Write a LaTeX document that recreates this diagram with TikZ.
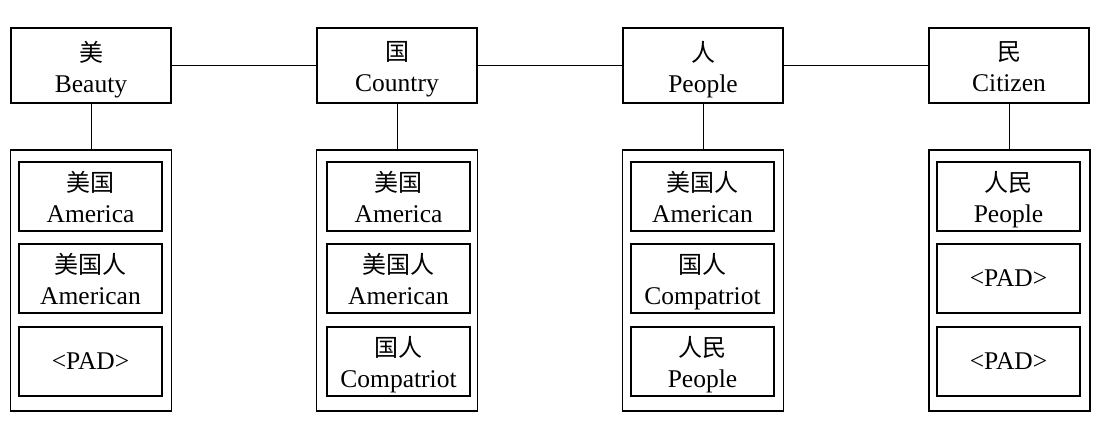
\documentclass[tikz,border=0pt]{standalone}
\usepackage{fontspec}
\setmainfont{Liberation Serif}
\newfontfamily\cjk{Noto Sans CJK SC}
\begin{document}
\begin{tikzpicture}[x=1pt,y=-1pt,
  every node/.style={font=\fontsize{25.5}{31}\selectfont, align=center, inner sep=0pt, outer sep=0pt},
  top/.style={draw, line width=1.2pt, minimum width=160pt, minimum height=75pt},
  outer/.style={draw, line width=1.2pt, minimum width=161pt, minimum height=261pt},
  inner/.style={draw, line width=1.2pt, minimum width=143pt, minimum height=69pt},
  link/.style={draw, line width=0.8pt}]
\useasboundingbox (0,0) rectangle (1098,421);
\newcommand{\zh}[1]{{\cjk\fontsize{24}{31}\selectfont #1}}
\newcommand{\en}[1]{\raisebox{0pt}[\height][0pt]{#1}}
% top boxes
\node[top] (t1) at (91,65.5) {};
\node[top] (t2) at (397,65.5) {};
\node[top] (t3) at (703,65.5) {};
\node[top] (t4) at (1009,65.5) {};
\node (l1) at (91,66.5) {\zh{美}\\\en{Beauty}};
\node (l2) at (397,66.5) {\zh{国}\\\en{Country}};
\node (l3) at (703,66.5) {\zh{人}\\\en{People}};
\node (l4) at (1009,66.5) {\zh{民}\\\en{Citizen}};
% outer boxes
\node[outer] (o1) at (91,280.5) {};
\node[outer] (o2) at (397,280.5) {};
\node[outer] (o3) at (703,280.5) {};
\node[outer] (o4) at (1009.5,280.5) {};
% inner boxes col 1
\node[inner] (a1) at (90.5,196.5) {\zh{美国}\\\en{America}};
\node[inner] (a2) at (90.5,278.5) {\zh{美国人}\\\en{American}};
\node[inner] (a3) at (90.5,361.5) {<PAD>};
% col 2
\node[inner] (b1) at (398.5,196.5) {\zh{美国}\\\en{America}};
\node[inner] (b2) at (398.5,278.5) {\zh{美国人}\\\en{American}};
\node[inner] (b3) at (398.5,361.5) {\zh{国人}\\\en{Compatriot}};
% col 3
\node[inner] (c1) at (702.5,196.5) {\zh{美国人}\\\en{American}};
\node[inner] (c2) at (702.5,278.5) {\zh{国人}\\\en{Compatriot}};
\node[inner] (c3) at (702.5,361.5) {\zh{人民}\\\en{People}};
% col 4
\node[inner] (d1) at (1008.5,196.5) {\zh{人民}\\\en{People}};
\node[inner] (d2) at (1008.5,278.5) {<PAD>};
\node[inner] (d3) at (1008.5,361.5) {<PAD>};
% connectors
\draw[link] (t1.east) -- (t2.west);
\draw[link] (t2.east) -- (t3.west);
\draw[link] (t3.east) -- (t4.west);
\draw[link] (t1.south) -- (o1.north -| t1.south);
\draw[link] (t2.south) -- (o2.north -| t2.south);
\draw[link] (t3.south) -- (o3.north -| t3.south);
\draw[link] (t4.south) -- (o4.north -| t4.south);
\end{tikzpicture}
\end{document}
